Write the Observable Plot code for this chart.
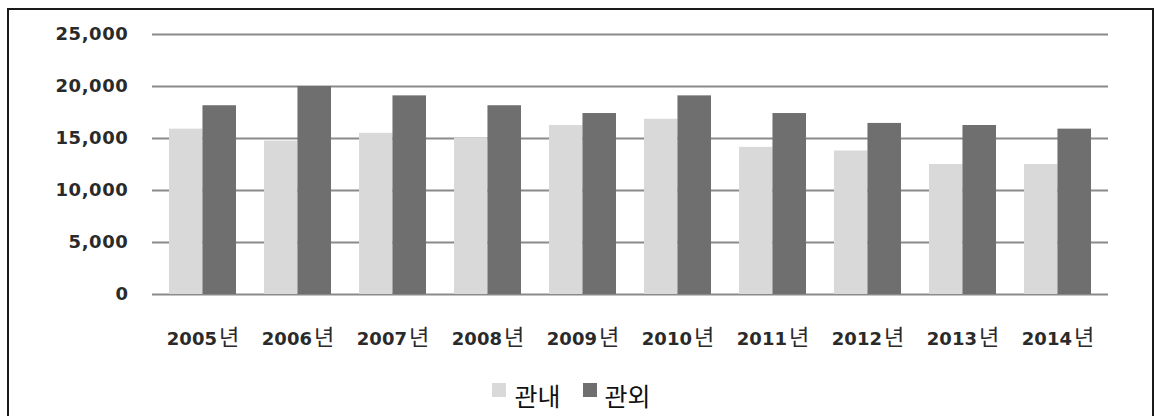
<!DOCTYPE html>
<html>
<head>
<meta charset="utf-8">
<script src="https://cdn.jsdelivr.net/npm/d3@7"></script>
<script src="https://cdn.jsdelivr.net/npm/@observablehq/plot@0.6"></script>
<style>
  html, body { margin: 0; padding: 0; background: #fff; }
  #wrap { position: relative; width: 1157px; height: 416px; overflow: hidden; }
  #frame { position: absolute; left: 7px; top: 8px; width: 1143px; height: 430px; border: 2px solid #1a1a1a; pointer-events: none; }
  #chart svg { display: block; }
  g[aria-label="y-axis tick label"] { letter-spacing: 0.6px; font-weight: bold; }
  g[aria-label="x-axis tick label"] { font-weight: bold; }
  #legend { display: flex; justify-content: center; align-items: center; height: 56px; padding-left: 8px; box-sizing: border-box; padding-top: 14px;
            font-family: "Noto Sans CJK KR", sans-serif; font-size: 25px; color: #111; }
  .sw { display: inline-block; width: 14px; height: 14px; margin-right: 8px; position: relative; top: -5px; }
  .item { display: inline-flex; align-items: center; margin-right: 22px; }
</style>
</head>
<body>
<div id="wrap">
  <div id="chart"></div>
  <div id="legend"></div>
  <div id="frame"></div>
</div>
<script>
const years = ["2005년","2006년","2007년","2008년","2009년","2010년","2011년","2012년","2013년","2014년"];
const inside = [15900, 14750, 15500, 15050, 16250, 16850, 14150, 13800, 12500, 12500];
const outside = [18150, 20000, 19100, 18150, 17400, 19100, 17400, 16450, 16250, 15900];
const yTicks = [0, 5000, 10000, 15000, 20000, 25000];
const seriesNames = ["관내", "관외"];
const seriesColors = ["#d9d9d9", "#6f6f6f"];

const data = years.map((year, i) => ({year, inside: inside[i], outside: outside[i]}));

const W = 1157, H = 360, mL = 152, mR = 49, mT = 34, mB = 66;
const padInner = 0.3, padOuter = 0.15;
const step = (W - mL - mR) / (years.length - padInner + 2 * padOuter);
const half = step * (1 - padInner) / 2;

const chart = Plot.plot({
  width: W, height: H,
  marginLeft: mL, marginRight: mR, marginTop: mT, marginBottom: mB,
  style: { fontFamily: "'DejaVu Sans', 'Noto Sans CJK KR', sans-serif", background: "#fff" },
  x: { domain: years, paddingInner: padInner, paddingOuter: padOuter, label: null },
  y: { domain: [0, 25000], label: null },
  marks: [
    Plot.ruleY(yTicks, { stroke: "#8a8a8a", strokeWidth: 2 }),
    Plot.barY(data, { x: "year", y: "inside", fill: seriesColors[0], insetRight: half }),
    Plot.barY(data, { x: "year", y: "outside", fill: seriesColors[1], insetLeft: half }),
    Plot.axisY({ ticks: yTicks, tickFormat: d3.format(","), tickSize: 0, tickPadding: 24, fontSize: 18, fill: "#2a2a2a", label: null }),
    Plot.axisX({ tickSize: 0, tickPadding: 38, fontSize: 18, fill: "#2a2a2a", label: null })
  ]
});
document.getElementById("chart").appendChild(chart);

// Render the "년" suffix larger, as in the reference
d3.select(chart).selectAll('g[aria-label="x-axis tick label"] text').each(function() {
  const t = d3.select(this);
  const full = t.text();
  const num = full.replace("년", "");
  t.text(num);
  t.append("tspan").attr("dx", 2).attr("font-size", 22).attr("font-weight", "normal")
    .style("font-family", "'Noto Sans CJK KR', sans-serif").text("년");
});

const legend = document.getElementById("legend");
seriesNames.forEach((name, i) => {
  const item = document.createElement("span");
  item.className = "item";
  const sw = document.createElement("span");
  sw.className = "sw";
  sw.style.background = seriesColors[i];
  item.appendChild(sw);
  item.appendChild(document.createTextNode(name));
  legend.appendChild(item);
});
</script>
</body>
</html>
